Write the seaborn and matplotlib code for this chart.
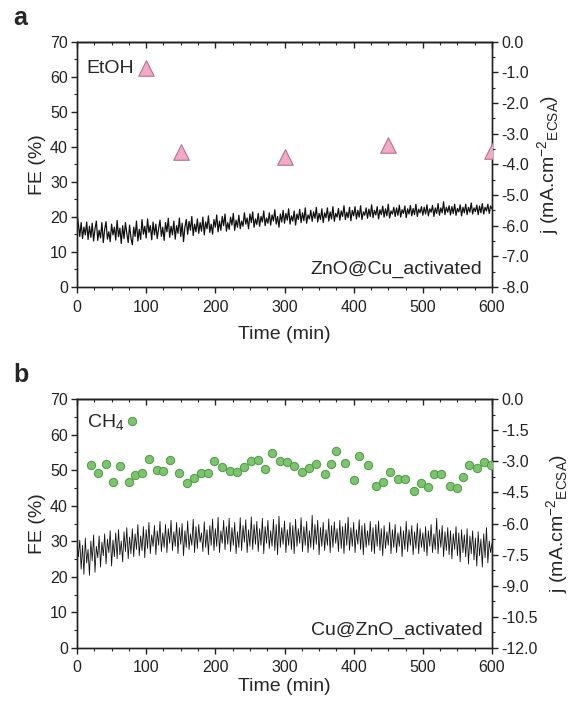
import numpy as np
import seaborn as sns
import matplotlib.pyplot as plt
from matplotlib.ticker import MultipleLocator, FormatStrFormatter

# ---- panel a: EtOH Faradaic efficiency (left axis) ----
etoh_time = [100, 150, 300, 450, 600]
etoh_fe = [62.4, 38.6, 37.1, 40.5, 38.8]

# ---- panel b: CH4 Faradaic efficiency (left axis) ----
ch4_time = [20, 31, 42, 52, 62, 75, 84, 94, 104, 115, 125, 135, 147, 159, 169,
            179, 189, 198, 210, 221, 232, 241, 251, 261, 272, 282, 293, 303,
            314, 326, 336, 346, 358, 367, 375, 388, 401, 408, 420, 432, 443,
            453, 464, 474, 487, 497, 507, 516, 526, 539, 549, 558, 567, 578,
            588, 598, 79]
ch4_fe = [51.4, 49.2, 51.6, 46.8, 51.1, 46.8, 48.7, 49.3, 53.0, 50.0, 49.8,
          52.9, 49.1, 46.4, 47.8, 49.3, 49.2, 52.7, 51.0, 49.8, 49.5, 50.8,
          52.5, 52.8, 50.4, 54.8, 52.6, 52.3, 51.3, 49.5, 50.6, 51.6, 48.9,
          51.7, 55.4, 52.1, 47.1, 54.0, 51.4, 45.6, 46.7, 49.6, 47.5, 47.5,
          44.1, 46.4, 45.3, 48.8, 48.9, 45.5, 45.0, 48.0, 51.4, 50.6, 52.3,
          51.4, 63.9]

# ---- current density traces (right axis), every 2 min ----
j_a = [
    -5.62, -5.95, -6.35, -5.90, -6.42, -6.05, -6.30, -5.88, -6.45, -6.02,
    -6.38, -5.92, -6.50, -6.10, -5.85, -6.48, -6.15, -6.40, -5.90, -6.55,
    -6.12, -5.87, -6.44, -6.20, -6.52, -5.95, -6.30, -6.05, -6.47, -5.83,
    -6.36, -6.08, -6.58, -6.00, -6.42, -5.90, -6.25, -6.55, -5.98, -6.40,
    -6.62, -6.05, -6.35, -5.85, -6.50, -6.12, -6.45, -5.80, -6.28, -6.02,
    -6.40, -5.78, -6.22, -6.00, -6.46, -5.88, -6.30, -5.95, -6.42, -6.10,
    -5.82, -6.35, -6.05, -6.48, -5.90, -6.20, -5.76, -6.38, -6.02, -6.30,
    -5.85, -6.44, -6.00, -6.25, -5.75, -6.35, -5.92, -6.52, -6.05, -5.80,
    -6.28, -5.86, -6.15, -5.70, -6.32, -5.95, -6.20, -5.78, -6.25, -5.90,
    -6.18, -5.72, -6.30, -5.88, -6.10, -5.68, -6.22, -5.95, -6.28, -5.80,
    -6.05, -5.65, -6.20, -5.85, -6.15, -5.70, -6.00, -5.62, -6.18, -5.90,
    -6.12, -5.72, -5.98, -5.60, -6.15, -5.82, -6.05, -5.66, -6.10, -5.85,
    -6.02, -5.58, -5.95, -5.75, -6.10, -5.62, -5.90, -5.55, -6.05, -5.78,
    -5.96, -5.60, -6.02, -5.70, -5.88, -5.52, -6.00, -5.75, -5.92, -5.58,
    -5.98, -5.65, -5.85, -5.48, -5.95, -5.70, -6.05, -5.62, -5.88, -5.50,
    -5.92, -5.60, -5.82, -5.45, -5.95, -5.68, -5.85, -5.52, -5.98, -5.62,
    -5.80, -5.47, -5.90, -5.58, -5.84, -5.42, -5.92, -5.65, -5.78, -5.50,
    -5.86, -5.55, -5.76, -5.40, -5.88, -5.60, -5.80, -5.45, -5.90, -5.58,
    -5.74, -5.42, -5.85, -5.55, -5.78, -5.38, -5.86, -5.60, -5.72, -5.44,
    -5.82, -5.52, -5.70, -5.35, -5.80, -5.56, -5.74, -5.40, -5.84, -5.50,
    -5.68, -5.38, -5.78, -5.50, -5.72, -5.35, -5.80, -5.55, -5.66, -5.42,
    -5.76, -5.46, -5.70, -5.32, -5.74, -5.50, -5.65, -5.38, -5.78, -5.48,
    -5.64, -5.36, -5.72, -5.45, -5.68, -5.30, -5.75, -5.52, -5.62, -5.40,
    -5.70, -5.42, -5.66, -5.33, -5.72, -5.48, -5.60, -5.36, -5.74, -5.45,
    -5.62, -5.34, -5.68, -5.44, -5.64, -5.30, -5.70, -5.46, -5.58, -5.38,
    -5.66, -5.40, -5.62, -5.32, -5.68, -5.45, -5.56, -5.34, -5.70, -5.42,
    -5.60, -5.28, -5.66, -5.42, -5.58, -5.22, -5.64, -5.40, -5.56, -5.35,
    -5.65, -5.38, -5.60, -5.30, -5.66, -5.44, -5.55, -5.32, -5.68, -5.40,
    -5.58, -5.30, -5.64, -5.40, -5.56, -5.26, -5.62, -5.42, -5.54, -5.33,
    -5.64, -5.36, -5.58, -5.28, -5.62, -5.40, -5.52, -5.30, -5.60, -5.36,
    -5.45]

j_b = [
    -6.95, -7.60, -6.80, -8.20, -7.05, -8.45, -6.70, -7.90, -7.25, -8.50,
    -6.85, -7.80, -6.55, -8.35, -7.10, -7.65, -6.60, -8.10, -6.90, -7.55,
    -6.50, -7.95, -6.75, -7.40, -6.35, -8.05, -6.80, -7.60, -6.45, -7.70,
    -6.30, -7.50, -6.85, -7.85, -6.40, -7.35, -6.20, -7.70, -6.65, -7.45,
    -6.25, -7.60, -6.50, -7.25, -6.05, -7.55, -6.60, -7.30, -6.15, -7.65,
    -6.30, -7.20, -5.95, -7.45, -6.55, -7.10, -6.10, -7.50, -6.35, -7.05,
    -5.90, -7.35, -6.45, -7.15, -6.05, -7.40, -6.25, -6.95, -5.85, -7.30,
    -6.40, -7.10, -5.95, -7.45, -6.20, -7.00, -6.00, -7.55, -6.35, -7.15,
    -5.88, -7.25, -6.50, -7.05, -5.80, -7.40, -6.15, -7.20, -6.05, -6.90,
    -6.45, -7.35, -5.92, -7.15, -6.30, -7.50, -6.10, -7.05, -5.78, -7.30,
    -6.25, -7.10, -5.70, -7.40, -6.35, -6.95, -5.85, -7.25, -6.15, -7.00,
    -5.75, -7.35, -6.20, -7.05, -5.95, -7.45, -6.40, -7.15, -5.72, -7.30,
    -6.10, -6.90, -5.82, -7.40, -6.30, -7.10, -5.68, -7.25, -6.05, -7.00,
    -5.90, -7.35, -6.25, -7.05, -5.75, -7.45, -6.15, -6.95, -5.85, -7.20,
    -6.35, -7.10, -5.80, -7.30, -6.05, -7.50, -5.65, -7.15, -6.20, -7.00,
    -5.88, -7.40, -6.30, -7.05, -5.95, -7.25, -6.10, -7.45, -5.80, -7.10,
    -6.25, -6.95, -5.72, -7.35, -6.15, -7.05, -5.90, -7.40, -6.35, -7.15,
    -5.60, -7.25, -6.05, -7.00, -5.85, -7.50, -6.20, -7.10, -5.95, -7.30,
    -6.30, -7.05, -5.78, -7.40, -6.10, -7.15, -5.92, -6.95, -6.25, -7.35,
    -5.85, -7.20, -6.15, -7.45, -6.00, -7.05, -5.70, -7.30, -6.20, -7.10,
    -5.95, -7.40, -6.30, -7.00, -5.82, -7.25, -6.10, -7.50, -6.00, -7.15,
    -6.35, -7.05, -5.90, -7.35, -6.20, -7.45, -6.05, -7.10, -5.88, -7.30,
    -6.25, -7.55, -6.10, -7.20, -6.40, -7.05, -5.95, -7.45, -6.30, -7.15,
    -6.05, -7.40, -6.45, -7.10, -6.15, -7.60, -6.35, -7.25, -5.90, -7.35,
    -6.30, -7.05, -6.10, -7.50, -6.40, -7.20, -6.00, -7.45, -6.25, -7.15,
    -6.45, -7.35, -6.15, -7.55, -6.35, -7.10, -6.05, -7.40, -6.50, -7.25,
    -5.75, -7.45, -6.30, -7.15, -6.10, -7.60, -6.40, -7.30, -6.20, -7.50,
    -6.35, -7.70, -6.50, -7.25, -6.15, -7.55, -6.45, -7.85, -6.30, -7.40,
    -6.55, -7.60, -6.25, -7.95, -6.60, -7.45, -6.35, -7.75, -6.70, -8.05,
    -6.40, -7.55, -6.75, -8.10, -6.50, -7.65, -6.20, -7.90, -6.85, -7.40,
    -6.95]

t_a = np.linspace(0, 600, len(j_a))
t_b = np.linspace(0, 600, len(j_b))

sns.set_style("ticks")
plt.rcParams['font.family'] = ['Liberation Sans', 'DejaVu Sans']
plt.rcParams['mathtext.fontset'] = 'custom'
plt.rcParams['mathtext.rm'] = 'Liberation Sans'
plt.rcParams['axes.linewidth'] = 1.0

fig = plt.figure(figsize=(5.73, 7.01), dpi=100)
W, H = 573.0, 701.0
ax_a = fig.add_axes([77 / W, 1 - 287 / H, 415 / W, 245.3 / H])
ax_b = fig.add_axes([77 / W, 1 - 648 / H, 415 / W, 249 / H])

jlabel = r'j (mA.cm$^{\mathregular{-2}}$$_{\mathregular{ECSA}}$)'


def style(ax, ax2, jmin, jstep, xlabelpad):
    ax.set_xlim(0, 600)
    ax.set_ylim(0, 70)
    ax2.set_ylim(jmin, 0)
    ax.xaxis.set_major_locator(MultipleLocator(100))
    ax.xaxis.set_minor_locator(MultipleLocator(25))
    ax.yaxis.set_major_locator(MultipleLocator(10))
    ax.yaxis.set_minor_locator(MultipleLocator(5))
    ax2.yaxis.set_major_locator(MultipleLocator(jstep))
    ax2.yaxis.set_minor_locator(MultipleLocator(jstep / 2))
    ax2.yaxis.set_major_formatter(FormatStrFormatter('%.1f'))
    for a in (ax, ax2):
        a.tick_params(which='major', direction='out', length=4.5, width=1.0,
                      labelsize=11.5, colors='#222222', pad=2)
        a.tick_params(which='minor', direction='out', length=2.5, width=0.8)
        for s in a.spines.values():
            s.set_visible(True)
            s.set_color('#222222')
    ax.tick_params(axis='x', which='major', pad=4.5)
    top = ax.secondary_xaxis('top')
    top.xaxis.set_major_locator(MultipleLocator(100))
    top.xaxis.set_minor_locator(MultipleLocator(25))
    top.tick_params(which='major', direction='in', length=4.5, width=1.0,
                    labeltop=False)
    top.tick_params(which='minor', direction='in', length=2.5, width=0.8)
    ax.set_xlabel('Time (min)', fontsize=14, labelpad=xlabelpad)
    ax.set_ylabel('FE (%)', fontsize=14, labelpad=3)
    ax2.set_ylabel(jlabel, fontsize=14, labelpad=5)


# panel a
ax2_a = ax_a.twinx()
sns.lineplot(x=t_a, y=j_a, ax=ax2_a, color='#111111', lw=0.9, estimator=None)
sns.scatterplot(x=etoh_time, y=etoh_fe, ax=ax_a, marker='^', s=125,
                color='#f2a9c6', edgecolor='#b3728f', linewidth=0.8,
                clip_on=True, zorder=5)
ax_a.set_zorder(ax2_a.get_zorder() + 1)
ax_a.patch.set_visible(False)
style(ax_a, ax2_a, -8, 1.0, 8)
ax_a.text(0.023, 0.89, 'EtOH', transform=ax_a.transAxes, fontsize=14,
          va='center', ha='left')
ax_a.text(0.977, 0.035, 'ZnO@Cu_activated', transform=ax_a.transAxes,
          fontsize=14, ha='right', va='bottom')

# panel b
ax2_b = ax_b.twinx()
sns.lineplot(x=t_b, y=j_b, ax=ax2_b, color='#111111', lw=0.6, estimator=None)
sns.scatterplot(x=ch4_time, y=ch4_fe, ax=ax_b, marker='o', s=36,
                color='#7cc46d', edgecolor='#4e9a46', linewidth=0.7, zorder=5)
ax_b.set_zorder(ax2_b.get_zorder() + 1)
ax_b.patch.set_visible(False)
style(ax_b, ax2_b, -12, 1.5, 2)
ax_b.text(0.023, 0.905, r'CH$_{\mathregular{4}}$', transform=ax_b.transAxes,
          fontsize=14, va='center', ha='left')
ax_b.text(0.977, 0.035, 'Cu@ZnO_activated', transform=ax_b.transAxes,
          fontsize=14, ha='right', va='bottom')

fig.text(13 / W, 1 - 25 / H, 'a', fontsize=18, fontweight='bold')
fig.text(13 / W, 1 - 382 / H, 'b', fontsize=18, fontweight='bold')

plt.savefig('out.png', dpi=100)
